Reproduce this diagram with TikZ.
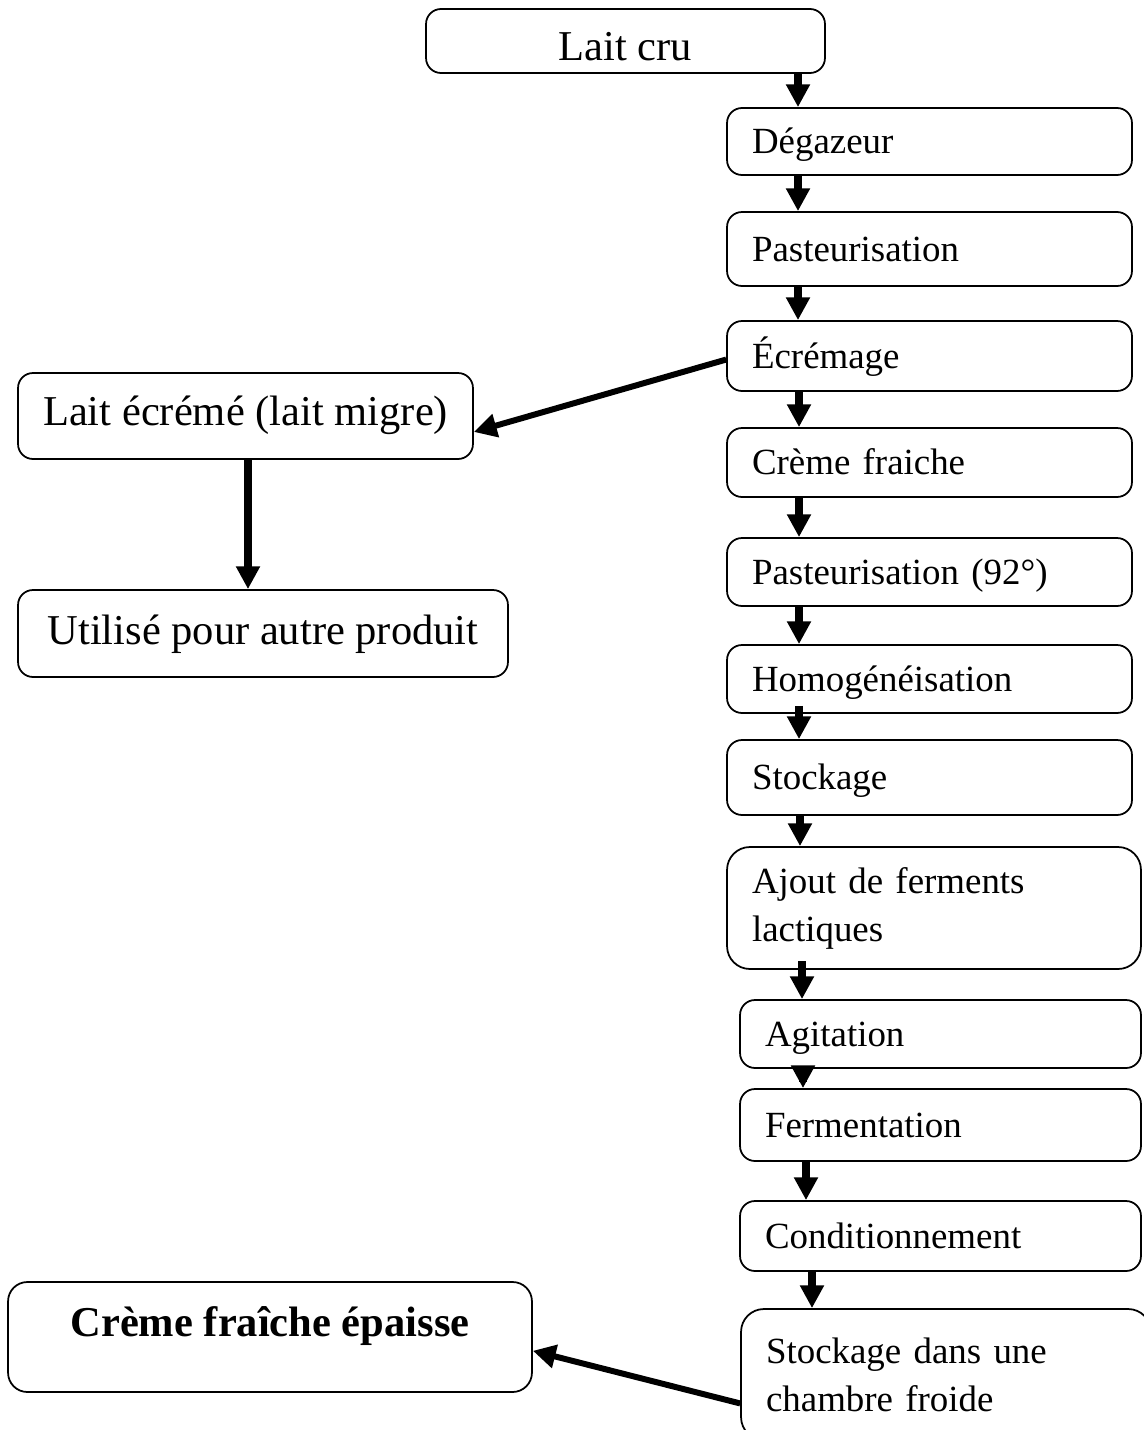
\documentclass[tikz,border=0pt]{standalone}
\usepackage{fontspec}
\setmainfont{Liberation Serif}
\usepackage{tikz}
\usetikzlibrary{arrows.meta,positioning}
\newcommand{\txtetape}{\fontsize{21}{27.3}\selectfont}
\newcommand{\txtgrand}{\fontsize{24.2}{29}\selectfont}

\begin{document}
\begin{tikzpicture}[x=0.02cm, y=-0.02cm,
                boite/.style={draw, line width=1pt, rounded corners=8.5pt, inner sep=0pt},
                etape/.style={boite, font=\txtetape, align=left, inner xsep=0.5cm},
                grande/.style={boite, font=\txtgrand, align=center},
                ligne/.style={text height=14pt, text depth=0pt},
                fleche/.style={line width=4.2pt, -{Triangle[width=13pt,length=13pt]}}]
                \useasboundingbox (0,0) rectangle (1143,1430);
                \node[grande, text height=21.7pt, text depth=0pt,
                minimum width=7.98cm, minimum height=1.28cm] (cru) at (625.5,41) {Lait cru};
                \node[etape, ligne, text width=7.1cm, minimum height=1.34cm] (deg) at (929.5,141.5) {Dégazeur};
                \node[etape, ligne, text width=7.1cm, minimum height=1.48cm] (past) at (929.5,249) {Pasteurisation};
                \node[etape, ligne, text width=7.1cm, minimum height=1.40cm] (ecr) at (929.5,356) {Écrémage};
                \node[etape, ligne, text width=7.1cm, minimum height=1.38cm] (creme) at (929.5,462.5) {Crème fraiche};
                \node[etape, ligne, text width=7.1cm, minimum height=1.36cm] (pastb) at (929.5,572) {Pasteurisation (92°)};
                \node[etape, ligne, text width=7.1cm, minimum height=1.36cm] (homog) at (929.5,679) {Homogénéisation};
                \node[etape, ligne, text width=7.1cm, minimum height=1.50cm] (stock) at (929.5,777.5) {Stockage};
                \node[etape, text width=7.28cm, minimum height=2.44cm,
                rounded corners=13pt] (ajout) at (934,908) {Ajout de ferments\\lactiques};
                \node[etape, ligne, text width=7.02cm, minimum height=1.36cm] (agit) at (940.5,1034) {Agitation};
                \node[etape, ligne, text width=7.02cm, minimum height=1.44cm] (ferm) at (940.5,1125) {Fermentation};
                \node[etape, ligne, text width=7.02cm, minimum height=1.40cm] (cond) at (940.5,1236) {Conditionnement};
                \node[etape, text width=7.2cm, minimum height=2.62cm,
                rounded corners=13pt] (froid) at (946,1374.5) {Stockage dans une\\chambre froide};
                \node[grande, text height=16pt, text depth=5.7pt,
                minimum width=9.1cm, minimum height=1.72cm] (lecr) at (245.5,416) {Lait écrémé (lait migre)};
                \node[grande, text height=16pt, text depth=4pt,
                minimum width=9.8cm, minimum height=1.74cm] (util) at (263,633.5) {Utilisé pour autre produit};
                \node[grande, font=\txtgrand\bfseries, text height=16pt, text depth=17pt,
                minimum width=10.48cm, minimum height=2.2cm,
                rounded corners=11pt] (cfe) at (270,1337) {Crème fraîche épaisse};
                \foreach \a/\b/\x/\s in {cru/deg/798/0, deg/past/798/0, past/ecr/798/0,
                ecr/creme/799/0, creme/pastb/799/0, pastb/homog/799/0, homog/stock/799/4.5,
                stock/ajout/800/0, ajout/agit/802/5, agit/ferm/803/7.4, ferm/cond/806/0,
                cond/froid/812/0}
                \draw[fleche, shorten <=-\s pt] (\a.south -| \x,0) -- (\b.north -| \x,0);
                \draw[fleche, line width=3.4pt] (ecr.181.7) -- (lecr.-4.8);
                \draw[fleche] (lecr.south -| 248,0) -- (util.north -| 248,0);
                \draw[fleche, line width=3.4pt] (froid.188.5) -- (cfe.-3.7);
            \end{tikzpicture}
\end{document}
